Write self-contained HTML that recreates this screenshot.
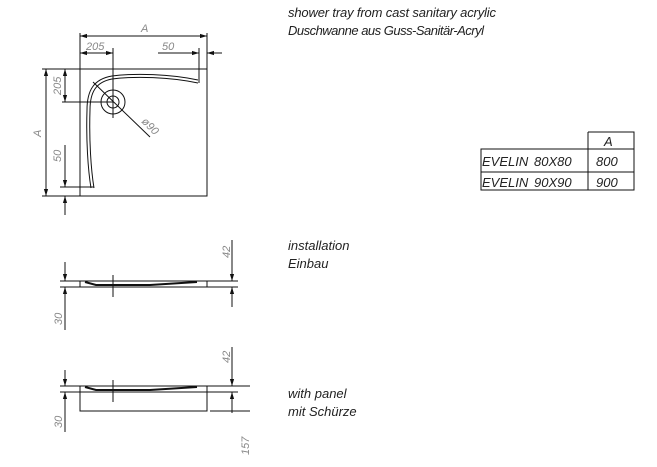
<!DOCTYPE html>
<html><head><style>
body{margin:0;background:#fff;width:657px;height:467px;overflow:hidden}
svg{display:block}
text{font-family:"Liberation Sans",sans-serif;font-style:italic;fill:#222;stroke:none}
.d{font-size:11px;fill:#888}
</style></head><body>
<svg width="657" height="467" viewBox="0 0 657 467" stroke="#111" stroke-width="1" fill="none">
<defs><marker id="a" viewBox="0 0 10 10" refX="10" refY="5" markerWidth="7" markerHeight="7" orient="auto-start-reverse"><path d="M0,2L10,5L0,8z" fill="#111" stroke="none"/></marker></defs>
<!-- top view -->
<rect x="80" y="69" width="127" height="127"/>
<line x1="80" y1="33" x2="80" y2="196"/><line x1="207" y1="33" x2="207" y2="69"/>
<line x1="80" y1="36" x2="207" y2="36" marker-start="url(#a)" marker-end="url(#a)"/>
<text x="141" y="32" class="d">A</text>
<line x1="80" y1="53" x2="113" y2="53" marker-start="url(#a)" marker-end="url(#a)"/>
<text x="86" y="50" class="d">205</text>
<line x1="113" y1="48" x2="113" y2="118"/>
<line x1="158" y1="53" x2="199" y2="53" marker-end="url(#a)"/>
<line x1="222" y1="53" x2="207" y2="53" marker-end="url(#a)"/>
<line x1="199" y1="48" x2="199" y2="83"/>
<text x="162" y="50" class="d">50</text>
<line x1="42" y1="69" x2="80" y2="69"/><line x1="42" y1="196" x2="80" y2="196"/>
<line x1="46" y1="69" x2="46" y2="196" marker-start="url(#a)" marker-end="url(#a)"/>
<text transform="translate(41,137) rotate(-90)" class="d">A</text>
<line x1="65" y1="69" x2="65" y2="102" marker-start="url(#a)" marker-end="url(#a)"/>
<line x1="62" y1="102" x2="113" y2="102"/>
<text transform="translate(61,95) rotate(-90)" class="d">205</text>
<line x1="65" y1="145" x2="65" y2="187" marker-end="url(#a)"/>
<line x1="65" y1="215" x2="65" y2="196" marker-end="url(#a)"/>
<line x1="60" y1="187" x2="94" y2="187"/>
<text transform="translate(61,162) rotate(-90)" class="d">50</text>
<path d="M198,83 C170,77 135,76 112,79 C96,82 90,92 90,110 C89,140 91,170 94,188"/>
<path d="M198,80 C170,74 135,73 112,76 C94,79 87,90 87,110 C86,140 88,170 91,188"/>
<circle cx="113" cy="102" r="12"/><circle cx="113" cy="102" r="6"/>
<line x1="93" y1="82" x2="150" y2="137"/>
<text transform="translate(141,122) rotate(45)" class="d">ø90</text>
<!-- installation -->
<line x1="60" y1="281" x2="238" y2="281"/><line x1="60" y1="287" x2="238" y2="287"/>
<rect x="80" y="281" width="127" height="6"/>
<path d="M85,282 L96,285 L150,285 L197,282" stroke-width="2"/>
<line x1="113" y1="275" x2="113" y2="297"/>
<line x1="65" y1="262" x2="65" y2="281" marker-end="url(#a)"/>
<line x1="65" y1="330" x2="65" y2="287" marker-end="url(#a)"/>
<text transform="translate(62,325) rotate(-90)" class="d">30</text>
<line x1="232" y1="240" x2="232" y2="281" marker-end="url(#a)"/>
<line x1="232" y1="307" x2="232" y2="287" marker-end="url(#a)"/>
<text transform="translate(230,258) rotate(-90)" class="d">42</text>
<!-- panel -->
<line x1="60" y1="386" x2="250" y2="386"/><line x1="60" y1="392" x2="238" y2="392"/>
<line x1="210" y1="411" x2="250" y2="411"/>
<rect x="80" y="386" width="127" height="25"/>
<path d="M85,387 L96,390 L150,390 L197,387" stroke-width="2"/>
<line x1="113" y1="380" x2="113" y2="402"/>
<line x1="65" y1="370" x2="65" y2="386" marker-end="url(#a)"/>
<line x1="65" y1="432" x2="65" y2="392" marker-end="url(#a)"/>
<text transform="translate(62,428) rotate(-90)" class="d">30</text>
<line x1="232" y1="347" x2="232" y2="386" marker-end="url(#a)"/>
<line x1="232" y1="413" x2="232" y2="392" marker-end="url(#a)"/>
<text transform="translate(230,363) rotate(-90)" class="d">42</text>
<text transform="translate(249,455) rotate(-90)" class="d">157</text>
<!-- texts -->
<text x="288" y="17" font-size="13" textLength="208">shower tray from cast sanitary acrylic</text>
<text x="288" y="35" font-size="13" textLength="196">Duschwanne aus Guss-Sanitär-Acryl</text>
<text x="288" y="250" font-size="13">installation</text>
<text x="288" y="268" font-size="13">Einbau</text>
<text x="288" y="398" font-size="13">with panel</text>
<text x="288" y="416" font-size="13">mit Schürze</text>
<text x="482" y="166" font-size="13">EVELIN</text><text x="534" y="166" font-size="13">80X80</text>
<text x="482" y="187" font-size="13">EVELIN</text><text x="534" y="187" font-size="13">90X90</text>
<text x="604" y="146" font-size="13">A</text>
<text x="596" y="166" font-size="13">800</text>
<text x="596" y="187" font-size="13">900</text>
<path d="M588,132H634V190H481V149H634M481,172H634M588,132V190"/>
</svg>
</body></html>
